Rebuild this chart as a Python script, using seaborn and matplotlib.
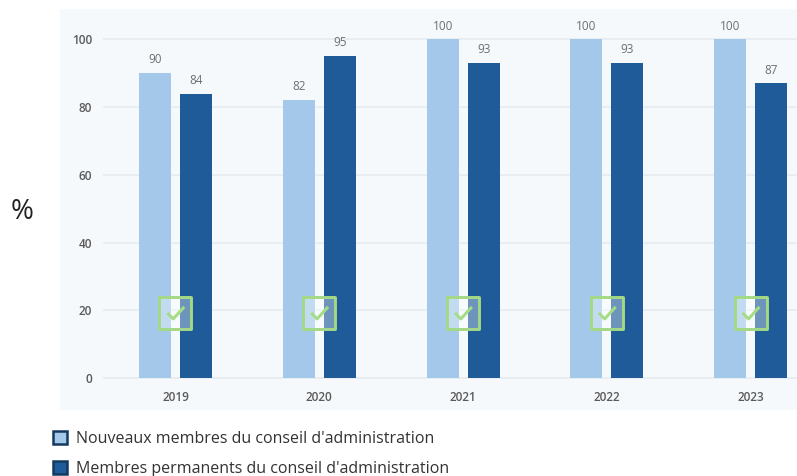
import pandas as pd
import matplotlib.pyplot as plt
from matplotlib.patches import Patch, Rectangle
from matplotlib.path import Path
import seaborn as sns

# Values
years = ['2019', '2020', '2021', '2022', '2023']
nouveaux = [90, 82, 100, 100, 100]
permanents = [84, 95, 93, 93, 87]
check_level = [19.2, 19.2, 19.2, 19.2, 19.2]

label_new = "Nouveaux membres du conseil d'administration"
label_perm = "Membres permanents du conseil d'administration"
y_ticks = [0, 20, 40, 60, 80, 100]

light_blue = '#A3C8EA'
dark_blue = '#1F5B98'
panel_bg = '#F5F9FC'
check_green = '#A3D984'

df = pd.DataFrame({
    'year': years * 2,
    'value': nouveaux + permanents,
    'group': [label_new] * len(years) + [label_perm] * len(years),
})

sns.set_theme(style='white')
plt.rcParams['font.family'] = ['Open Sans', 'DejaVu Sans']

W, H = 797, 476
fig = plt.figure(figsize=(W / 100, H / 100), dpi=100, facecolor='white')

# Pale panel behind the plot
fig.add_artist(Rectangle((60 / W, 1 - 410 / H), 737 / W, 401 / H,
                         transform=fig.transFigure, facecolor=panel_bg,
                         edgecolor='none', zorder=0))

ax = fig.add_axes([103 / W, 1 - 410 / H, 694 / W, 401 / H])
ax.patch.set_alpha(0)

sns.barplot(data=df, x='year', y='value', hue='group',
            palette=[light_blue, dark_blue], width=0.57, gap=0.22,
            saturation=1, legend=False, linewidth=0, ax=ax, zorder=3)

ax.set_xlim(-0.504, 4.322)
ax.set_ylim(-9.45, 109)
ax.set_xlabel('')
ax.set_ylabel('')
ax.set_yticks(y_ticks)
ax.yaxis.grid(True, color='#E6EBF0', linewidth=1.2, zorder=0)
ax.xaxis.grid(False)
sns.despine(ax=ax, left=True, bottom=True)
ax.tick_params(axis='both', length=0, labelsize=8.5, labelcolor='#5A5A5A')
ax.tick_params(axis='x', pad=-14)
ax.tick_params(axis='y', pad=8)
for tick in ax.get_xticklabels() + ax.get_yticklabels():
    tick.set_fontweight('semibold')

for container in ax.containers:
    ax.bar_label(container, padding=5, fontsize=8.5, color='#6E6E6E', clip_on=False)

# Green check boxes sitting across each pair of bars
positions = list(range(len(years)))
ax.scatter(positions, check_level, marker='s', s=540, facecolor=(1, 1, 1, 0.35),
           edgecolor=check_green, linewidth=2.1, zorder=5)
tick_path = Path([(-0.55, 0.0), (-0.15, -0.4), (0.6, 0.42)])
ax.scatter(positions, check_level, marker=tick_path, s=160, facecolor='none',
           edgecolor='#A5DC86', linewidth=2.2, zorder=6)

fig.text(22 / W, 1 - 212 / H, '%', fontsize=20, color='#222222',
         ha='center', va='center')

handles = [Patch(facecolor=light_blue, edgecolor='#14395F', linewidth=1.8, label=label_new),
           Patch(facecolor=dark_blue, edgecolor='#14395F', linewidth=1.8, label=label_perm)]
fig.legend(handles=handles, loc='upper left', bbox_to_anchor=(50 / W, 1 - 428 / H),
           frameon=False, fontsize=11.5, labelcolor='#333333', handlelength=0.85,
           handleheight=0.85, handletextpad=0.58, labelspacing=0.88,
           borderpad=0.2, borderaxespad=0)

plt.savefig('out.png', dpi=100)
